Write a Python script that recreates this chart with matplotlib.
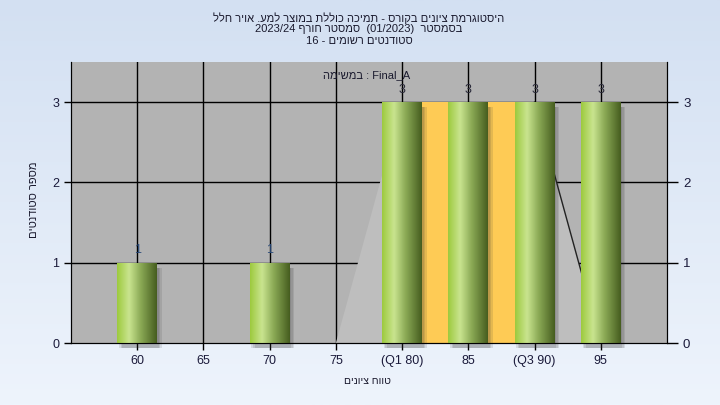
import numpy as np
import matplotlib
matplotlib.use("Agg")
import matplotlib.pyplot as plt
from matplotlib.colors import LinearSegmentedColormap
from matplotlib.patches import Rectangle, Polygon

plt.rcParams['font.family'] = ['Liberation Sans', 'DejaVu Sans']


def rtl(s):
    # matplotlib draws left to right, so Hebrew runs are reversed by hand
    return s[::-1]


# data
bins = [60, 65, 70, 75, 80, 85, 90, 95]
counts = [1, 0, 1, 0, 3, 3, 3, 3]
tick_labels = ['60', '65', '70', '75', '(Q1 80)', '85', '(Q3 90)', '95']
q1, q3 = 80, 90
title_lines = [
    rtl('היסטוגרמת ציונים בקורס - תמיכה כוללת במוצר למע. אויר חלל'),
    '2023/24 ' + rtl('סמסטר חורף') + '  (01/2023)  ' + rtl('בסמסטר'),
    '16 - ' + rtl('סטודנטים רשומים'),
]
task_label = rtl('במשימה') + ' : Final_A'
xlabel = rtl('טווח ציונים')
ylabel = rtl('מספר סטודנטים')

bar_w = 3
fig = plt.figure(figsize=(7.2, 4.05), dpi=100)

# background gradient
bg = fig.add_axes([0, 0, 1, 1], zorder=-10)
bg_cmap = LinearSegmentedColormap.from_list('bg', ['#d3e0f2', '#eef4fc'])
bg.imshow(np.linspace(0, 1, 256).reshape(-1, 1), cmap=bg_cmap, aspect='auto',
          extent=(0, 1, 0, 1), origin='upper')
bg.axis('off')

ax = fig.add_axes([71 / 720, 1 - 343 / 405, 596 / 720, 281 / 405])
ax.set_facecolor('#b3b3b3')

# grid
for x in bins:
    ax.axvline(x, color='black', lw=1, zorder=1)
for y in [1, 2, 3]:
    ax.axhline(y, color='black', lw=1, zorder=1)

# box-like shape and quartile band
ax.add_patch(Polygon([(75, 0), (q1, 3), (q3, 3), (95, 0)], closed=True,
                     facecolor='#bebebe', edgecolor='none', zorder=2))
ax.plot([q3, 95], [3, 0], color='#222222', lw=1, zorder=2)
ax.add_patch(Rectangle((q1, 0), q3 - q1, 3, facecolor='#fecb55',
                       edgecolor='none', zorder=2))

bar_cmap = LinearSegmentedColormap.from_list(
    'bar', [(0, '#9dca3e'), (0.3, '#c9e48f'), (0.6, '#8aa955'), (1, '#465d1f')])
grad = np.linspace(0, 1, 128).reshape(1, -1)

for x, c in zip(bins, counts):
    if c == 0:
        continue
    x0 = x - bar_w / 2
    # soft shadow
    for k in range(3):
        off = 0.12 + 0.12 * k
        ax.add_patch(Rectangle((x0 + off, -0.06), bar_w, c, facecolor='#303030',
                               alpha=0.12, edgecolor='none', zorder=3, clip_on=False))
    rect = Rectangle((x0, 0), bar_w, c, transform=ax.transData)
    im = ax.imshow(grad, cmap=bar_cmap, extent=(x0, x0 + bar_w, 0, c),
                   aspect='auto', zorder=4)
    im.set_clip_path(rect)
    ax.text(x, c + 0.08, str(c), ha='center', va='bottom', fontsize=9,
            color='#2a4a78' if c == 1 else '#2a2a3a', zorder=5)

ax.text(80.6, 3.34, task_label, ha='right', va='center', fontsize=8,
        color='#1a1a2e', zorder=5)

ax.set_xlim(55, 100)
ax.set_ylim(0, 3.5)
ax.set_xticks(bins)
ax.set_xticklabels(tick_labels)
ax.set_yticks([0, 1, 2, 3])
ax.tick_params(axis='both', direction='out', length=5, width=1, labelsize=9,
               labelcolor='#1a1a3a', colors='black')
ax.tick_params(axis='both', labelcolor='#1a1a3a')
ax.spines['top'].set_visible(False)

ax2 = ax.twinx()
ax2.set_ylim(0, 3.5)
ax2.set_yticks([0, 1, 2, 3])
ax2.tick_params(axis='y', direction='out', length=8, width=1, labelsize=9.5,
                labelcolor='#1a1a3a')
ax2.spines['top'].set_visible(False)

fig.text(367 / 720, 1 - 381 / 405, xlabel, ha='center', va='center',
         fontsize=7.5, color='#1a1a2e')
fig.text(34 / 720, 1 - 200 / 405, ylabel, rotation=90, ha='center',
         va='center', fontsize=8, color='#1a1a2e')

for i, line in enumerate(title_lines):
    fig.text(359 / 720, 1 - (18 + 11.3 * i) / 405, line, ha='center',
             va='center', fontsize=8, color='#1a1a2e')

fig.savefig('out.png', dpi=100)
